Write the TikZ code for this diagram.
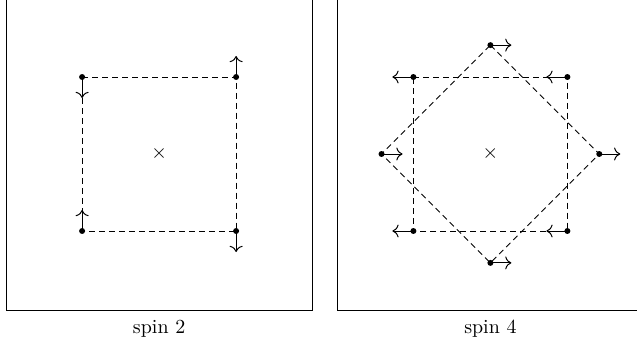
\documentclass[tikz,border=0pt]{standalone}
\usetikzlibrary{positioning,arrows.meta}

\begin{document}
\begin{tikzpicture}[
    spin/.style={circle, fill=black, inner sep=0pt, minimum size=3pt},
    bond/.style={dash pattern=on 3pt off 2pt},
    dir/.style={-{To[scale=1.15]}, line width=0.5pt},
    frame/.style={draw, minimum width=5.39cm, minimum height=5.52cm},
    caption/.style={font=\normalsize}
]
\clip (-2.80,-3.40) rectangle (8.41,2.71);

% Panel 1: spin 2
\node[frame] (box2) at (0,0) {};
\node[caption, below=1pt of box2] (cap2) {spin 2};
\node (ctr2) at (0,0) {$\times$};

\node[spin] (p1) at (-1.355, 1.355) {};
\node[spin] (p2) at ( 1.355, 1.355) {};
\node[spin] (p3) at ( 1.355,-1.355) {};
\node[spin] (p4) at (-1.355,-1.355) {};

\draw[bond] (p1.center) -- (p2.center) -- (p3.center) -- (p4.center) -- (p1.center);

\coordinate[below=0.37cm of p1.center] (p1e);
\coordinate[above=0.37cm of p2.center] (p2e);
\coordinate[below=0.37cm of p3.center] (p3e);
\coordinate[above=0.37cm of p4.center] (p4e);
\draw[dir] (p1.center) -- (p1e);
\draw[dir] (p2.center) -- (p2e);
\draw[dir] (p3.center) -- (p3e);
\draw[dir] (p4.center) -- (p4e);

% Panel 2: spin 4
\node[frame] (box4) at (5.83,0) {};
\node[caption, below=1pt of box4] (cap4) {spin 4};
\node (ctr4) at (5.83,0) {$\times$};

% square
\node[spin] (q1) at (4.475, 1.355) {};
\node[spin] (q2) at (7.185, 1.355) {};
\node[spin] (q3) at (7.185,-1.355) {};
\node[spin] (q4) at (4.475,-1.355) {};
% diamond
\node[spin] (r1) at (5.830, 1.916) {};
\node[spin] (r2) at (7.746, 0) {};
\node[spin] (r3) at (5.830,-1.916) {};
\node[spin] (r4) at (3.914, 0) {};

\draw[bond] (q1.center) -- (q2.center) -- (q3.center) -- (q4.center) -- (q1.center);
\draw[bond] (r1.center) -- (r2.center) -- (r3.center) -- (r4.center) -- (r1.center);

\coordinate[left=0.37cm of q1.center] (q1e);
\coordinate[left=0.37cm of q2.center] (q2e);
\coordinate[left=0.37cm of q3.center] (q3e);
\coordinate[left=0.37cm of q4.center] (q4e);
\draw[dir] (q1.center) -- (q1e);
\draw[dir] (q2.center) -- (q2e);
\draw[dir] (q3.center) -- (q3e);
\draw[dir] (q4.center) -- (q4e);

\coordinate[right=0.37cm of r1.center] (r1e);
\coordinate[right=0.37cm of r2.center] (r2e);
\coordinate[right=0.37cm of r3.center] (r3e);
\coordinate[right=0.37cm of r4.center] (r4e);
\draw[dir] (r1.center) -- (r1e);
\draw[dir] (r2.center) -- (r2e);
\draw[dir] (r3.center) -- (r3e);
\draw[dir] (r4.center) -- (r4e);

\end{tikzpicture}
\end{document}
